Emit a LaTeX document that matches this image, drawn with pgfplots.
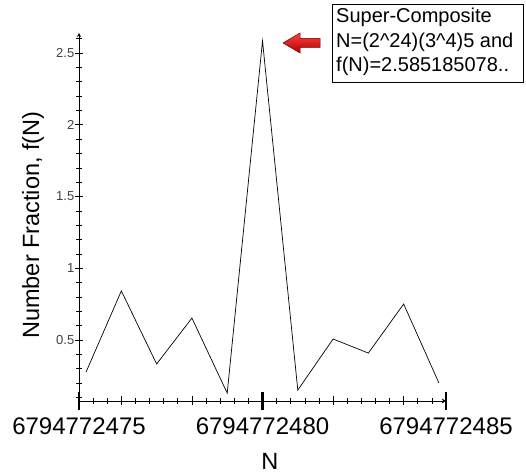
\documentclass[border=0pt]{standalone}
\usepackage{pgfplots}
\pgfplotsset{compat=1.18}
\usepackage{fontspec}
\setmainfont{Liberation Sans}
\begin{document}
\begin{tikzpicture}[x=1bp,y=1bp]
\useasboundingbox (-79,-72) rectangle (447,401);
\pgfplotsset{base/.style={at={(0,0)}, anchor=south west, scale only axis,
  width=367bp, height=368bp, xmin=0, xmax=26, ymin=0.075, ymax=2.64,
  tick align=center, axis line style={-, line width=0.8bp},
  /pgf/number format/assume math mode=true}}
% y axis
\begin{axis}[base, axis y line=left, axis x line=none, xtick=\empty,
  ytick={0.5,1,1.5,2,2.5}, yticklabels={0.5,1,1.5,2,2.5},
  minor ytick={0.1,0.2,...,2.61},
  major tick length=7bp, minor tick length=5bp,
  every tick/.style={black, line width=0.7bp},
  yticklabel style={font=\fontsize{13bp}{15bp}\selectfont, text=black!75, inner sep=1bp},
  ylabel={Number Fraction, f(N)},
  ylabel style={at={(axis description cs:-0.125,0.478)}, anchor=center, font=\fontsize{23.5bp}{26bp}\selectfont}]
\end{axis}
% x minor and medium ticks
\begin{axis}[base, axis x line=bottom, axis y line=none, ytick=\empty,
  xtick={3,8,18,23}, xticklabels={}, minor xtick={0,1,...,26},
  major tick length=9bp, minor tick length=6bp,
  every tick/.style={black, line width=0.7bp}]
\end{axis}
% x major ticks and data
\begin{axis}[base, axis x line=bottom, axis y line=none, ytick=\empty,
  xtick={0,13,26}, xticklabels={6794772475,6794772480,6794772485},
  major tick length=18bp,
  every tick/.style={black, line width=2.6bp},
  xticklabel style={font=\fontsize{24bp}{26bp}\selectfont, text=black, yshift=-4bp},
  xlabel={N},
  xlabel style={at={(axis description cs:0.52,-0.164)}, anchor=center, font=\fontsize{23.5bp}{26bp}\selectfont}]
\addplot[black, line width=0.7bp] coordinates {
(0.5,0.277) (3,0.842) (5.5,0.333) (8,0.653) (10.5,0.130) (13,2.585185078)
(15.5,0.151) (18,0.507) (20.5,0.409) (23,0.751) (25.5,0.200)};
\end{axis}
% annotation
\draw[line width=0.8bp] (253,319) rectangle (444,397);
\node[anchor=base west, font=\fontsize{20bp}{24bp}\selectfont, inner sep=0pt] at (257,378) {Super-Composite};
\node[anchor=base west, font=\fontsize{20bp}{24bp}\selectfont, inner sep=0pt] at (257,353) {N=(2\textasciicircum 24)(3\textasciicircum 4)5 and};
\node[anchor=base west, font=\fontsize{20bp}{24bp}\selectfont, inner sep=0pt] at (257,329) {f(N)=2.585185078..};
\shade[top color=red!75!white, bottom color=red!70!black]
  (204,358) -- (221,368) -- (221,362.5) -- (241,362.5) -- (241,353.5) -- (221,353.5) -- (221,348) -- cycle;
\draw[red!40!black, line width=0.5bp]
  (204,358) -- (221,368) -- (221,362.5) -- (241,362.5) -- (241,353.5) -- (221,353.5) -- (221,348) -- cycle;
\end{tikzpicture}
\end{document}
